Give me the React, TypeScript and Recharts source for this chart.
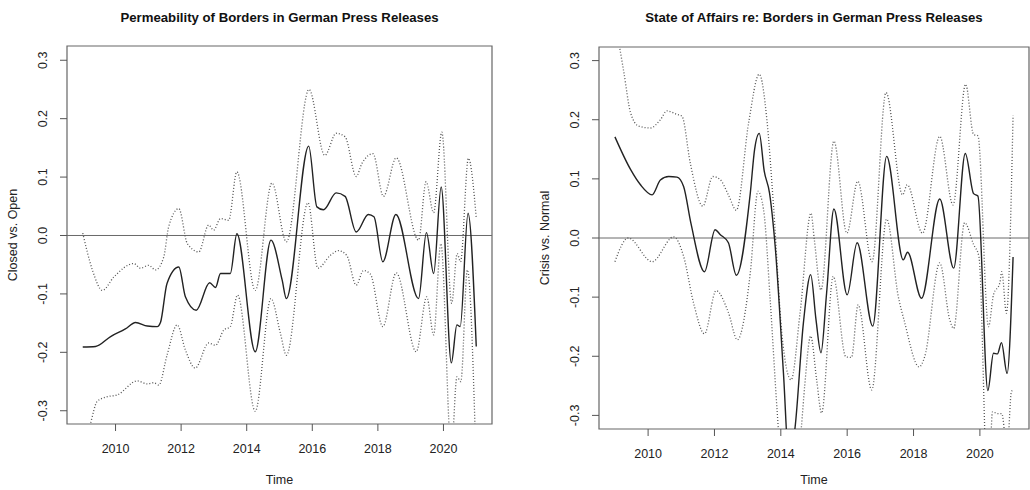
import React from 'react';
import { LineChart, Line, XAxis, YAxis, ReferenceLine, ReferenceArea, Label } from 'recharts';

type Pair = [number, number];

const YEAR_TICKS = [2010, 2012, 2014, 2016, 2018, 2020];
const VALUE_TICKS = [-0.3, -0.2, -0.1, 0, 0.1, 0.2, 0.3];

const PERM_TITLE = 'Permeability of Borders in German Press Releases';
const PERM_YLABEL = 'Closed vs. Open';
const STATE_TITLE = 'State of Affairs re: Borders in German Press Releases';
const STATE_YLABEL = 'Crisis vs. Normal';
const X_LABEL = 'Time';

// Permeability: estimate (solid)
const PERM_EST: Pair[] = [
  [2009.0, -0.191], [2009.39, -0.19], [2009.85, -0.173], [2010.3, -0.16], [2010.61, -0.149],
  [2010.97, -0.155], [2011.27, -0.156], [2011.37, -0.149], [2011.57, -0.082], [2011.93, -0.054],
  [2012.13, -0.105], [2012.46, -0.128], [2012.87, -0.081], [2013.05, -0.089], [2013.2, -0.065],
  [2013.5, -0.065], [2013.7, 0.003], [2014.26, -0.199], [2014.74, -0.008], [2015.08, -0.076],
  [2015.21, -0.108], [2015.89, 0.153], [2016.14, 0.049], [2016.34, 0.044], [2016.73, 0.073],
  [2017.0, 0.067], [2017.34, 0.006], [2017.71, 0.036], [2017.88, 0.032], [2018.15, -0.045],
  [2018.55, 0.036], [2019.24, -0.108], [2019.48, 0.005], [2019.7, -0.065], [2019.93, 0.083],
  [2020.24, -0.218], [2020.41, -0.153], [2020.51, -0.156], [2020.75, 0.038], [2021.0, -0.19],
];

// Permeability: upper band (dotted)
const PERM_UPPER: Pair[] = [
  [2009.0, 0.004], [2009.3, -0.06], [2009.6, -0.094], [2009.95, -0.071], [2010.56, -0.048],
  [2010.76, -0.056], [2011.01, -0.051], [2011.22, -0.059], [2011.47, -0.037], [2011.62, 0.015],
  [2011.93, 0.046], [2012.19, -0.014], [2012.54, -0.028], [2012.84, 0.018], [2012.99, 0.009],
  [2013.2, 0.029], [2013.45, 0.026], [2013.7, 0.109], [2014.26, -0.094], [2014.77, 0.09],
  [2015.21, -0.011], [2015.9, 0.25], [2016.38, 0.137], [2016.73, 0.175], [2017.0, 0.169],
  [2017.34, 0.101], [2017.51, 0.123], [2017.85, 0.14], [2018.17, 0.067], [2018.56, 0.133],
  [2019.24, -0.008], [2019.47, 0.092], [2019.7, 0.039], [2019.95, 0.177], [2020.25, -0.116],
  [2020.42, -0.031], [2020.52, -0.045], [2020.76, 0.132], [2021.0, 0.03],
];

// Permeability: lower band (dotted)
const PERM_LOWER: Pair[] = [
  [2009.0, -0.37], [2009.24, -0.321], [2009.44, -0.284], [2009.75, -0.276], [2010.05, -0.273],
  [2010.66, -0.249], [2010.97, -0.254], [2011.17, -0.252], [2011.32, -0.256], [2011.57, -0.205],
  [2011.88, -0.153], [2012.13, -0.196], [2012.43, -0.227], [2012.84, -0.184], [2013.05, -0.188],
  [2013.3, -0.162], [2013.5, -0.156], [2013.72, -0.102], [2014.26, -0.301], [2014.74, -0.108],
  [2015.03, -0.168], [2015.21, -0.205], [2015.87, 0.056], [2016.17, -0.056], [2016.55, -0.034],
  [2016.8, -0.026], [2017.05, -0.034], [2017.34, -0.085], [2017.56, -0.06], [2017.77, -0.066],
  [2018.15, -0.156], [2018.56, -0.064], [2019.17, -0.199], [2019.49, -0.105], [2019.7, -0.17],
  [2019.92, -0.014], [2020.24, -0.37], [2020.41, -0.242], [2020.53, -0.25], [2020.73, -0.059],
  [2021.0, -0.4],
];

// State of affairs: estimate (solid)
const STATE_EST: Pair[] = [
  [2009.0, 0.171], [2009.47, 0.116], [2009.77, 0.09], [2010.12, 0.073], [2010.37, 0.098],
  [2010.62, 0.104], [2010.87, 0.103], [2011.07, 0.087], [2011.29, 0.025], [2011.7, -0.057],
  [2012.02, 0.014], [2012.17, 0.006], [2012.42, -0.008], [2012.66, -0.063], [2013.08, 0.076],
  [2013.21, 0.15], [2013.35, 0.177], [2013.5, 0.113], [2013.66, 0.076], [2013.83, -0.014],
  [2014.08, -0.229], [2014.25, -0.38], [2014.43, -0.32], [2014.68, -0.144], [2014.9, -0.062],
  [2015.06, -0.138], [2015.21, -0.194], [2015.38, -0.093], [2015.6, 0.049], [2016.0, -0.096],
  [2016.3, -0.008], [2016.77, -0.149], [2017.19, 0.138], [2017.69, -0.037], [2017.82, -0.024],
  [2018.24, -0.102], [2018.79, 0.066], [2019.21, -0.051], [2019.56, 0.143], [2019.81, 0.075],
  [2019.94, 0.071], [2020.24, -0.258], [2020.41, -0.195], [2020.53, -0.196], [2020.65, -0.177],
  [2020.82, -0.229], [2021.0, -0.032],
];

// State of affairs: upper band (dotted)
const STATE_UPPER: Pair[] = [
  [2009.0, 0.37], [2009.15, 0.32], [2009.27, 0.28], [2009.47, 0.212], [2009.72, 0.189],
  [2010.07, 0.186], [2010.37, 0.2], [2010.57, 0.215], [2010.87, 0.209], [2011.02, 0.206],
  [2011.27, 0.127], [2011.65, 0.054], [2011.95, 0.104], [2012.17, 0.099], [2012.42, 0.073],
  [2012.66, 0.047], [2013.03, 0.195], [2013.35, 0.277], [2013.58, 0.2], [2013.78, 0.054],
  [2014.03, -0.161], [2014.31, -0.24], [2014.58, -0.127], [2014.91, 0.042], [2015.01, -0.003],
  [2015.21, -0.088], [2015.6, 0.164], [2015.99, 0.008], [2016.32, 0.096], [2016.75, -0.04],
  [2017.17, 0.246], [2017.67, 0.073], [2017.81, 0.09], [2018.27, 0.008], [2018.79, 0.172],
  [2019.19, 0.056], [2019.57, 0.26], [2019.81, 0.175], [2019.94, 0.173], [2020.26, -0.15],
  [2020.41, -0.096], [2020.6, -0.076], [2020.66, -0.057], [2020.8, -0.127], [2021.0, 0.207],
];

// State of affairs: lower band (dotted)
const STATE_LOWER: Pair[] = [
  [2009.0, -0.04], [2009.4, 0.0], [2010.12, -0.04], [2010.77, 0.002], [2011.07, -0.031],
  [2011.37, -0.11], [2011.7, -0.162], [2012.05, -0.089], [2012.42, -0.126], [2012.69, -0.172],
  [2013.08, -0.059], [2013.31, 0.079], [2013.48, 0.048], [2013.68, -0.105], [2013.88, -0.285],
  [2014.2, -0.5], [2014.62, -0.32], [2014.72, -0.25], [2014.9, -0.166], [2015.08, -0.24],
  [2015.23, -0.296], [2015.58, -0.065], [2015.96, -0.201], [2016.13, -0.202], [2016.33, -0.113],
  [2016.74, -0.257], [2017.19, 0.032], [2017.54, -0.099], [2017.72, -0.14], [2018.17, -0.218],
  [2018.34, -0.2], [2018.79, -0.042], [2019.09, -0.138], [2019.21, -0.153], [2019.54, 0.026],
  [2019.81, -0.011], [2019.97, -0.031], [2020.25, -0.45], [2020.38, -0.294], [2020.54, -0.297],
  [2020.66, -0.297], [2020.82, -0.36], [2020.95, -0.26], [2021.0, -0.257],
];

const FONT = '"Liberation Sans", Arial, Helvetica, sans-serif';
const X_DOMAIN: [number, number] = [2008.52, 2021.48];

const toRows = (pairs: Pair[]) => pairs.map(([t, v]) => ({ t, v }));

const YTick = (props: any) => {
  const { x, y, payload } = props;
  return (
    <text
      x={x}
      y={y}
      transform={`rotate(-90, ${x}, ${y})`}
      textAnchor="middle"
      fontSize={12.5}
      fontFamily={FONT}
      fill="#222"
    >
      {Number(payload.value).toFixed(1)}
    </text>
  );
};

type PanelProps = {
  left: number;
  title: string;
  yLabel: string;
  est: Pair[];
  upper: Pair[];
  lower: Pair[];
  yDomain: [number, number];
  margin: { top: number; right: number; bottom: number; left: number };
  yAxisWidth: number;
  xLabelOffset: number;
};

function Panel(p: PanelProps) {
  const W = 515;
  const H = 490;
  const plotW = W - p.margin.right - p.yAxisWidth - p.margin.left;
  return (
    <div style={{ position: 'absolute', left: p.left, top: 0, width: W, height: H }}>
      <div
        style={{
          position: 'absolute',
          left: p.yAxisWidth + p.margin.left,
          width: plotW,
          top: 10,
          lineHeight: '16px',
          textAlign: 'center',
          fontFamily: FONT,
          fontWeight: 'bold',
          fontSize: 13.2,
          color: '#111',
          whiteSpace: 'nowrap',
        }}
      >
        {p.title}
      </div>
      <LineChart width={W} height={H} margin={p.margin}>
        <XAxis
          dataKey="t"
          type="number"
          domain={X_DOMAIN}
          allowDataOverflow
          ticks={YEAR_TICKS}
          height={30}
          tickSize={7}
          tickMargin={13}
          axisLine={false}
          tickLine={{ stroke: '#555' }}
          tick={{ fontSize: 12.5, fontFamily: FONT, fill: '#222' }}
        >
          <Label
            content={(lp: any) => {
              const vb = lp.viewBox || {};
              return (
                <text
                  x={vb.x + vb.width / 2}
                  y={vb.y + p.xLabelOffset}
                  textAnchor="middle"
                  fontSize={12.5}
                  fontFamily={FONT}
                  fill="#222"
                >
                  {X_LABEL}
                </text>
              );
            }}
          />
        </XAxis>
        <YAxis
          type="number"
          domain={p.yDomain}
          allowDataOverflow
          ticks={VALUE_TICKS}
          width={p.yAxisWidth}
          tickSize={7}
          tickMargin={13}
          axisLine={false}
          tickLine={{ stroke: '#555' }}
          tick={<YTick />}
        >
          <Label
            content={(lp: any) => {
              const vb = lp.viewBox || {};
              const cx = vb.x + vb.width - 50.5;
              const cy = vb.y + vb.height / 2;
              return (
                <text
                  x={cx}
                  y={cy}
                  transform={`rotate(-90, ${cx}, ${cy})`}
                  textAnchor="middle"
                  fontSize={12.5}
                  fontFamily={FONT}
                  fill="#222"
                >
                  {p.yLabel}
                </text>
              );
            }}
          />
        </YAxis>
        <ReferenceLine y={0} stroke="#6a6a6a" strokeWidth={1} />
        <Line
          data={toRows(p.upper)}
          dataKey="v"
          type="monotone"
          dot={false}
          activeDot={false}
          stroke="#555"
          strokeWidth={1.3}
          strokeDasharray="1 2"
          isAnimationActive={false}
        />
        <Line
          data={toRows(p.lower)}
          dataKey="v"
          type="monotone"
          dot={false}
          activeDot={false}
          stroke="#555"
          strokeWidth={1.3}
          strokeDasharray="1 2"
          isAnimationActive={false}
        />
        <Line
          data={toRows(p.est)}
          dataKey="v"
          type="monotone"
          dot={false}
          activeDot={false}
          stroke="#222"
          strokeWidth={1.4}
          isAnimationActive={false}
        />
        <ReferenceArea
          x1={X_DOMAIN[0]}
          x2={X_DOMAIN[1]}
          y1={p.yDomain[0]}
          y2={p.yDomain[1]}
          fill="none"
          fillOpacity={0}
          stroke="#666"
          strokeWidth={1.2}
          ifOverflow="visible"
        />
      </LineChart>
    </div>
  );
}

export default function App() {
  return (
    <div style={{ position: 'absolute', left: 0, top: 0, width: 1030, height: 490, background: '#fff' }}>
      <Panel
        left={0}
        title={PERM_TITLE}
        yLabel={PERM_YLABEL}
        est={PERM_EST}
        upper={PERM_UPPER}
        lower={PERM_LOWER}
        yDomain={[-0.3227, 0.3244]}
        margin={{ top: 46, right: 23, bottom: 36, left: 0 }}
        yAxisWidth={67}
        xLabelOffset={60}
      />
      <Panel
        left={515}
        title={STATE_TITLE}
        yLabel={STATE_YLABEL}
        est={STATE_EST}
        upper={STATE_UPPER}
        lower={STATE_LOWER}
        yDomain={[-0.323, 0.323]}
        margin={{ top: 47, right: 1, bottom: 31, left: 0 }}
        yAxisWidth={84}
        xLabelOffset={55}
      />
    </div>
  );
}
